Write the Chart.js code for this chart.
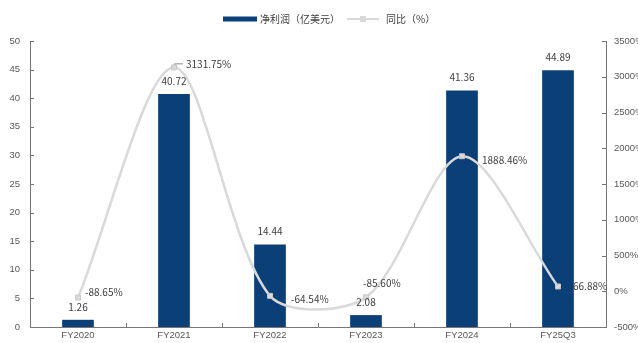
<!DOCTYPE html>
<html>
<head>
<meta charset="utf-8">
<script src="https://cdn.jsdelivr.net/npm/chart.js@4"></script>
<style>
  html, body { margin: 0; padding: 0; background: #fff; }
  #wrap { width: 638px; height: 343px; }
</style>
</head>
<body>
<div id="wrap"><canvas id="myChart" width="638" height="343"></canvas></div>
<script>
const categories = ['FY2020', 'FY2021', 'FY2022', 'FY2023', 'FY2024', 'FY25Q3']
const netProfit = [1.26, 40.72, 14.44, 2.08, 41.36, 44.89]
const yoyPct = [-88.65, 3131.75, -64.54, -85.6, 1888.46, 66.88]
const leftTicks = { min: 0, max: 50, step: 5 }
const rightTicks = { min: -500, max: 3500, step: 500 }

const barColor = '#0b3f78'
const lineColor = '#d9d9d9'
const axisColor = '#767676'
const textColor = '#404040'
const tickColor = '#595959'
const cjkFont = '"Noto Sans CJK SC", "Liberation Sans", sans-serif'
const tickFont = { family: '"Liberation Sans", Arial, sans-serif', size: 9.5 }

// where each yoy label sits relative to its point: [dx, dy, leader]
const yoyLabelPos = [
  [7, -5, false],
  [12, -3, true],
  [21, 3, false],
  [-3, -14, false],
  [20, 4, false],
  [15, 0, false],
]

const fmt = (v) => v.toFixed(2)

// value labels over bars and next to line points
const valueLabels = {
  id: 'valueLabels',
  afterDatasetsDraw(chart) {
    const ctx = chart.ctx
    ctx.save()
    ctx.font = '10px ' + cjkFont
    ctx.fillStyle = textColor
    ctx.textBaseline = 'middle'

    const bars = chart.getDatasetMeta(0).data
    ctx.textAlign = 'center'
    bars.forEach((bar, i) => {
      ctx.fillText(fmt(netProfit[i]), bar.x, bar.y - 13)
    })

    const pts = chart.getDatasetMeta(1).data
    ctx.textAlign = 'left'
    pts.forEach((pt, i) => {
      const [dx, dy, leader] = yoyLabelPos[i]
      if (leader) {
        ctx.strokeStyle = '#8c8c8c'
        ctx.lineWidth = 1
        ctx.beginPath()
        ctx.moveTo(pt.x + 0.5, pt.y - 3)
        ctx.lineTo(pt.x + 0.5, pt.y + dy - 0.5)
        ctx.lineTo(pt.x + dx - 3, pt.y + dy - 0.5)
        ctx.stroke()
      }
      ctx.fillText(fmt(yoyPct[i]) + '%', pt.x + dx, pt.y + dy)
    })
    ctx.restore()
  },
}

// short tick marks pointing into the plot
const innerTicks = {
  id: 'innerTicks',
  afterDraw(chart) {
    const ctx = chart.ctx
    const { left, right, bottom } = chart.chartArea
    ctx.save()
    ctx.strokeStyle = axisColor
    ctx.lineWidth = 1
    ctx.beginPath()
    const y = chart.scales.y
    y.ticks.forEach((t) => {
      const py = Math.round(y.getPixelForValue(t.value)) + 0.5
      ctx.moveTo(left, py)
      ctx.lineTo(left + 4, py)
    })
    const y1 = chart.scales.y1
    y1.ticks.forEach((t) => {
      const py = Math.round(y1.getPixelForValue(t.value)) + 0.5
      ctx.moveTo(right, py)
      ctx.lineTo(right - 4, py)
    })
    const x = chart.scales.x
    for (let i = 1; i < categories.length; i++) {
      const px = Math.round((x.getPixelForValue(i - 1) + x.getPixelForValue(i)) / 2) + 0.5
      ctx.moveTo(px, bottom)
      ctx.lineTo(px, bottom - 4)
    }
    ctx.stroke()
    ctx.restore()
  },
}

// legend row at the top
const topLegend = {
  id: 'topLegend',
  afterDraw(chart) {
    const ctx = chart.ctx
    const ds = chart.data.datasets
    const cy = 19
    ctx.save()
    ctx.font = '10px ' + cjkFont
    ctx.fillStyle = textColor
    ctx.textBaseline = 'middle'
    ctx.textAlign = 'left'

    let x = 223
    ctx.fillStyle = barColor
    ctx.fillRect(x, cy - 2.5, 34, 5)
    ctx.fillStyle = textColor
    ctx.fillText(ds[0].label, x + 37, cy)
    x += 37 + ctx.measureText(ds[0].label).width + 7

    ctx.strokeStyle = lineColor
    ctx.lineWidth = 2
    ctx.beginPath()
    ctx.moveTo(x, cy)
    ctx.lineTo(x + 32, cy)
    ctx.stroke()
    ctx.fillStyle = lineColor
    ctx.fillRect(x + 13, cy - 3, 6, 6)
    ctx.fillStyle = textColor
    ctx.fillText(ds[1].label, x + 39, cy)
    ctx.restore()
  },
}

const data = {
  labels: categories,
  datasets: [
    {
      type: 'bar',
      label: '净利润（亿美元）',
      data: netProfit,
      backgroundColor: barColor,
      yAxisID: 'y',
      barPercentage: 0.66,
      categoryPercentage: 0.5,
      order: 1,
    },
    {
      type: 'line',
      label: '同比（%）',
      data: yoyPct,
      yAxisID: 'y1',
      borderColor: lineColor,
      borderWidth: 2.5,
      tension: 0.3,
      pointStyle: 'rect',
      pointRadius: 3.5,
      pointBackgroundColor: lineColor,
      pointBorderColor: '#c8c8c8',
      pointBorderWidth: 1,
      order: 0,
    },
  ],
}

const config = {
  data: data,
  options: {
    responsive: false,
    animation: false,
    layout: { padding: { top: 41, left: 0, right: 0, bottom: 0 } },
    plugins: {
      legend: { display: false },
      tooltip: { enabled: false },
    },
    scales: {
      x: {
        grid: { display: false, drawTicks: false },
        border: { display: true, color: axisColor },
        ticks: { color: tickColor, font: tickFont, padding: 3, maxRotation: 0 },
        afterFit: (s) => { s.height = 16 },
      },
      y: {
        position: 'left',
        min: leftTicks.min,
        max: leftTicks.max,
        grid: { display: false, drawTicks: false },
        border: { display: true, color: axisColor },
        ticks: { stepSize: leftTicks.step, color: tickColor, font: tickFont, padding: 10 },
        afterFit: (s) => { s.width = 30 },
      },
      y1: {
        position: 'right',
        min: rightTicks.min,
        max: rightTicks.max,
        grid: { display: false, drawTicks: false },
        border: { display: true, color: axisColor },
        ticks: {
          stepSize: rightTicks.step,
          color: tickColor,
          font: tickFont,
          padding: 8,
          callback: (v) => v + '%',
        },
        afterFit: (s) => { s.width = 32 },
      },
    },
  },
  plugins: [valueLabels, innerTicks, topLegend],
}

const myChart = new Chart(document.getElementById('myChart'), config)
</script>
</body>
</html>
